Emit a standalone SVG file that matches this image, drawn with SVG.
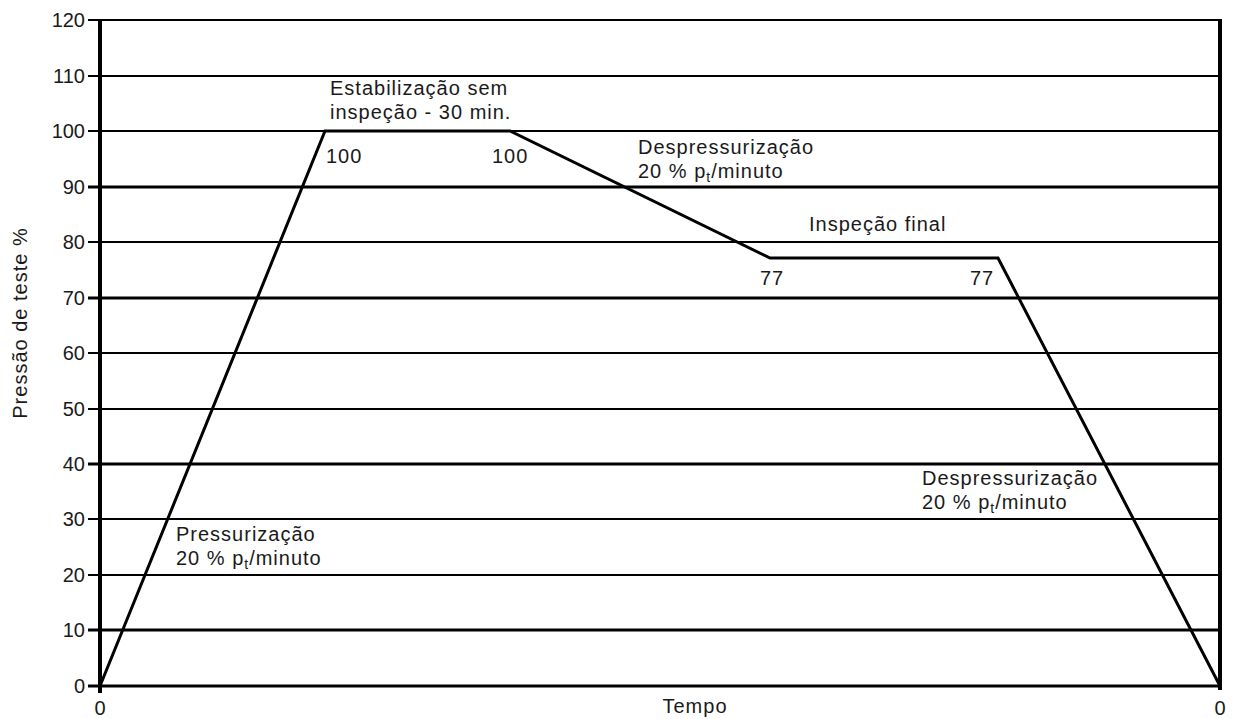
<svg xmlns="http://www.w3.org/2000/svg" width="1238" height="719" viewBox="0 0 1238 719">
<style>
text{font-family:"Liberation Sans",Arial,sans-serif;font-size:20px;fill:#1a1a1a}
.tick{text-anchor:end}
.lb{letter-spacing:1px}
.g{stroke:#000;stroke-width:2}
.gt{stroke:#000;stroke-width:2.8}
.sub{font-size:14px}
</style>
<rect width="1238" height="719" fill="#fff"/>
<g id="grid">
<line class="g" x1="88" y1="20" x2="1220" y2="20"/>
<line class="g" x1="88" y1="76" x2="1220" y2="76"/>
<line class="g" x1="88" y1="131" x2="1220" y2="131"/>
<line class="gt" x1="88" y1="187" x2="1220" y2="187"/>
<line class="g" x1="88" y1="242" x2="1220" y2="242"/>
<line class="gt" x1="88" y1="298" x2="1220" y2="298"/>
<line class="g" x1="88" y1="353" x2="1220" y2="353"/>
<line class="g" x1="88" y1="409" x2="1220" y2="409"/>
<line class="gt" x1="88" y1="464" x2="1220" y2="464"/>
<line class="g" x1="88" y1="519" x2="1220" y2="519"/>
<line class="g" x1="88" y1="575" x2="1220" y2="575"/>
<line class="gt" x1="88" y1="630" x2="1220" y2="630"/>
<line class="gt" x1="88" y1="686" x2="1220" y2="686"/>
</g>
<g id="axes">
<line x1="100" y1="19" x2="100" y2="693" stroke="#000" stroke-width="4"/>
<line x1="1220" y1="19" x2="1220" y2="690" stroke="#000" stroke-width="4"/>
</g>
<g id="ticks">
<text class="tick" x="85" y="27">120</text>
<text class="tick" x="85" y="83">110</text>
<text class="tick" x="85" y="138">100</text>
<text class="tick" x="85" y="194">90</text>
<text class="tick" x="85" y="249">80</text>
<text class="tick" x="85" y="305">70</text>
<text class="tick" x="85" y="360">60</text>
<text class="tick" x="85" y="416">50</text>
<text class="tick" x="85" y="471">40</text>
<text class="tick" x="85" y="526">30</text>
<text class="tick" x="85" y="582">20</text>
<text class="tick" x="85" y="637">10</text>
<text class="tick" x="85" y="693">0</text>
<text x="100" y="715" text-anchor="middle">0</text>
<text x="1220" y="715" text-anchor="middle">0</text>
<text class="lb" x="695" y="713" text-anchor="middle">Tempo</text>
<text class="lb" transform="translate(27,323) rotate(-90)" text-anchor="middle">Pressão de teste %</text>
</g>
<g id="connectors">
<polyline points="100,686 325,131 510,131 770,258 998,258 1220,686" fill="none" stroke="#000" stroke-width="3" stroke-linejoin="miter"/>
</g>
<g id="labels" class="lb">
<text class="lb" x="330" y="95">Estabilização sem</text>
<text class="lb" x="330" y="119">inspeção - 30 min.</text>
<text class="lb" x="326" y="163">100</text>
<text class="lb" x="492" y="163">100</text>
<text class="lb" x="638" y="154">Despressurização</text>
<text class="lb" x="638" y="178">20 % p<tspan class="sub" dy="4">t</tspan><tspan dy="-4">/minuto</tspan></text>
<text class="lb" x="809" y="231">Inspeção final</text>
<text class="lb" x="760" y="285">77</text>
<text class="lb" x="970" y="285">77</text>
<text class="lb" x="922" y="485">Despressurização</text>
<text class="lb" x="922" y="509">20 % p<tspan class="sub" dy="4">t</tspan><tspan dy="-4">/minuto</tspan></text>
<text class="lb" x="176" y="541">Pressurização</text>
<text class="lb" x="176" y="565">20 % p<tspan class="sub" dy="4">t</tspan><tspan dy="-4">/minuto</tspan></text>
</g>
</svg>
